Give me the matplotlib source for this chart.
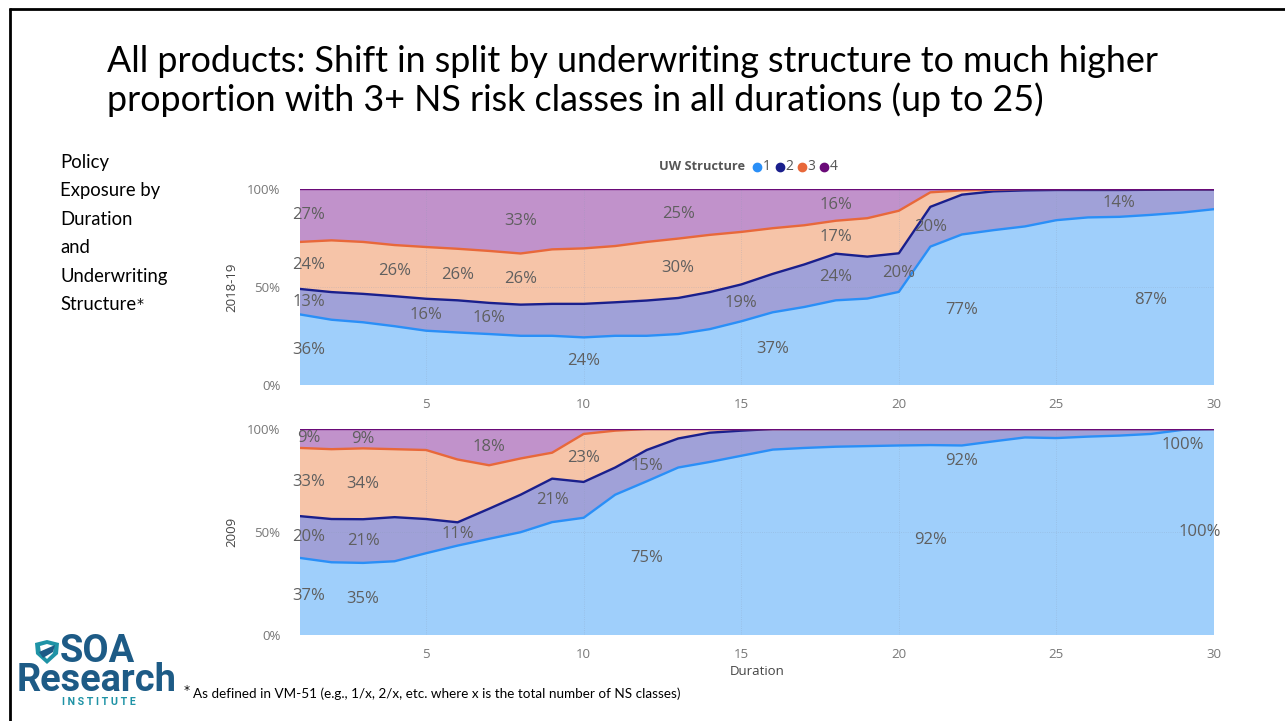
import numpy as np
import matplotlib
matplotlib.use('Agg')
import matplotlib.pyplot as plt
from matplotlib import font_manager
from matplotlib.lines import Line2D
from matplotlib.patches import Polygon

# ---------------- data ----------------
durations = list(range(1, 31))
series_names = ['1', '2', '3', '4']

# 2018-19 exposure share (%) by UW structure
s2018_1 = [36.0, 33.3, 32.0, 30.0, 27.7, 26.8, 26.0, 25.1, 25.1, 24.3, 25.1, 25.1, 26.0, 28.5, 32.5,
           37.1, 39.8, 43.2, 44.1, 47.5, 70.6, 76.8, 79.0, 80.9, 84.1, 85.5, 85.8, 86.8, 88.0, 89.7]
s2018_2 = [13.0, 14.1, 14.5, 15.3, 16.3, 16.4, 15.9, 15.9, 16.3, 17.1, 17.1, 18.0, 18.4, 18.9, 18.8,
           19.6, 21.7, 23.8, 21.4, 19.7, 20.3, 20.3, 19.8, 18.4, 15.4, 14.0, 13.7, 12.8, 11.7, 10.0]
s2018_3 = [24.0, 26.4, 26.5, 26.1, 26.4, 26.3, 26.5, 26.1, 27.8, 28.3, 28.7, 29.9, 30.3, 29.2, 26.8,
           23.3, 20.0, 16.8, 19.6, 21.7, 7.4, 2.2, 0.9, 0.7, 0.5, 0.5, 0.5, 0.4, 0.3, 0.3]
s2018_4 = [27.0, 26.2, 27.0, 28.6, 29.6, 30.5, 31.6, 32.9, 30.8, 30.3, 29.1, 27.0, 25.3, 23.4, 21.9,
           20.0, 18.5, 16.2, 14.9, 11.1, 1.7, 0.7, 0.3, 0.0, 0.0, 0.0, 0.0, 0.0, 0.0, 0.0]

# 2009 exposure share (%) by UW structure
s2009_1 = [37.4, 35.3, 35.0, 35.8, 39.7, 43.4, 46.7, 49.9, 54.8, 56.9, 68.1, 74.6, 81.3, 84.0, 87.0,
           90.0, 90.8, 91.4, 91.7, 92.0, 92.2, 92.0, 94.0, 95.9, 95.6, 96.3, 96.8, 97.6, 99.6, 100.0]
s2009_2 = [20.3, 21.0, 21.2, 21.4, 16.6, 11.3, 14.6, 18.2, 21.1, 17.4, 13.2, 15.2, 14.1, 14.2, 12.2,
           10.0, 9.2, 8.6, 8.3, 8.0, 7.8, 8.0, 6.0, 4.1, 4.4, 3.7, 3.2, 2.4, 0.4, 0.0]
s2009_3 = [33.1, 33.9, 34.4, 33.0, 33.5, 30.5, 21.1, 17.6, 12.6, 23.3, 17.9, 10.2, 4.6, 1.8, 0.8,
           0.0, 0.0, 0.0, 0.0, 0.0, 0.0, 0.0, 0.0, 0.0, 0.0, 0.0, 0.0, 0.0, 0.0, 0.0]
s2009_4 = [9.2, 9.8, 9.4, 9.8, 10.2, 14.8, 17.6, 14.3, 11.5, 2.4, 0.8, 0.0, 0.0, 0.0, 0.0,
           0.0, 0.0, 0.0, 0.0, 0.0, 0.0, 0.0, 0.0, 0.0, 0.0, 0.0, 0.0, 0.0, 0.0, 0.0]

# data labels shown: (duration, series index)
labels_2018 = [(1, 3), (8, 3), (13, 3), (18, 3),
               (1, 2), (4, 2), (6, 2), (8, 2), (13, 2), (18, 2),
               (1, 1), (5, 1), (7, 1), (15, 1), (18, 1), (20, 1), (21, 1), (27, 1),
               (1, 0), (10, 0), (16, 0), (22, 0), (28, 0)]
labels_2009 = [(1, 3), (3, 3), (7, 3),
               (1, 2), (3, 2), (10, 2),
               (1, 1), (3, 1), (6, 1), (9, 1), (12, 1),
               (1, 0), (3, 0), (12, 0), (21, 0), (22, 0), (29, 0), (30, 0)]
# a few labels sit away from their band centre in the original
label_y_override_2009 = {(22, 0): 0.845, (29, 0): 0.92}

title_lines = ["All products: Shift in split by underwriting structure to much higher",
               "proportion with 3+ NS risk classes in all durations (up to 25)"]
side_lines = ["Policy", "Exposure by", "Duration", "and", "Underwriting", "Structure"]
footnote = "As defined in VM-51 (e.g., 1/x, 2/x, etc. where x is the total number of NS classes)"

# ---------------- style ----------------
W, H = 1285, 721
fill_colors = ['#9fcffb', '#a0a1d8', '#f6c4a8', '#c192cb']
line_colors = ['#2a8ff7', '#1a1f8c', '#e8683a', '#6a0a78']
avail = {f.name for f in font_manager.fontManager.ttflist}
def pick(*names):
    for n in names:
        if n in avail:
            return n
    return 'DejaVu Sans'
UI = pick('Open Sans', 'Noto Sans', 'DejaVu Sans')
TITLE = pick('Lato', 'Open Sans')
NARROW = pick('Liberation Sans Narrow', 'Lato')
LOGO = pick('Roboto', 'Open Sans')

fig = plt.figure(figsize=(W / 100, H / 100), dpi=100)
renderer = fig.canvas.get_renderer()

def fx(x): return x / W
def fy(y): return 1 - y / H

def fit_size(s, family, target_w, weight='normal', base=20):
    t = fig.text(0, 0, s, fontsize=base, family=family, weight=weight)
    w = t.get_window_extent(renderer).width
    t.remove()
    return base * target_w / w

def axes_box(l, t, r, b):
    return [fx(l), fy(b), fx(r) - fx(l), fy(t) - fy(b)]

ax1 = fig.add_axes(axes_box(300, 189, 1214, 385))
ax2 = fig.add_axes(axes_box(300, 429, 1214, 635))

def draw_panel(ax, shares, labels, overrides, ylab, show_xlabel):
    shares = np.array(shares, dtype=float)
    frac = shares / 100.0
    cum = np.cumsum(frac, axis=0)
    ax.stackplot(durations, frac, colors=fill_colors, lw=0, zorder=1)
    for i in range(4):
        ax.plot(durations, cum[i], color=line_colors[i], lw=1.7, zorder=3,
                solid_joinstyle='round')
    for xv in range(5, 31, 5):
        ax.axvline(xv, color='#8a9ab5', lw=0.6, ls=':', alpha=0.35, zorder=2)
    ax.axhline(0.5, color='#8a9ab5', lw=0.6, ls=':', alpha=0.35, zorder=2)
    for d, i in labels:
        k = d - 1
        lo = cum[i - 1][k] if i > 0 else 0.0
        hi = cum[i][k]
        y = overrides.get((d, i), (lo + hi) / 2)
        xpos = min(max(d, 1.28), 29.55)
        ax.text(xpos, y, f"{shares[i][k]:.0f}%", ha='center', va='center',
                fontsize=12, family=UI, color='#5f5f5f', zorder=5)
    ax.set_xlim(1, 30)
    ax.set_ylim(0, 1)
    ax.set_yticks([0, 0.5, 1.0])
    ax.set_yticklabels(['0%', '50%', '100%'])
    ax.set_xticks([5, 10, 15, 20, 25, 30])
    for sp in ax.spines.values():
        sp.set_visible(False)
    ax.tick_params(length=0, labelsize=9.5, labelcolor='#777777', pad=9)
    ax.tick_params(axis='y', pad=14)
    for lab in ax.get_xticklabels() + ax.get_yticklabels():
        lab.set_family(UI)
    ax.set_ylabel(ylab, family=UI, fontsize=9.5, color='#444444', labelpad=10)
    if show_xlabel:
        ax.set_xlabel('Duration', family=UI, fontsize=9.5, color='#444444', labelpad=3)

draw_panel(ax1, [s2018_1, s2018_2, s2018_3, s2018_4], labels_2018, {}, '2018-19', False)
draw_panel(ax2, [s2009_1, s2009_2, s2009_3, s2009_4], labels_2009, label_y_override_2009, '2009', True)
ax1.yaxis.set_label_coords(-0.067, 0.5)
ax2.yaxis.set_label_coords(-0.067, 0.5)

# ---------------- legend ----------------
fig.text(fx(745), fy(167), 'UW Structure', ha='right', va='center', family=UI,
         weight='bold', fontsize=9.2, color='#555555')
leg_x = [757, 780, 802, 824]
for xp, name, c in zip(leg_x, series_names, line_colors):
    fig.add_artist(Line2D([fx(xp)], [fy(167)], marker='o', ms=6.0, color=c, mec=c, lw=0))
    fig.text(fx(xp + 5.5), fy(167), name, ha='left', va='center', family=UI,
             fontsize=10, color='#555555')

# ---------------- title and side text ----------------
ts = fit_size(title_lines[0], TITLE, 1058)
fig.text(fx(107), fy(72), title_lines[0], family=TITLE, fontsize=ts, color='#000000', va='baseline')
fig.text(fx(107), fy(111), title_lines[1], family=TITLE, fontsize=ts, color='#000000', va='baseline')

ss = fit_size('Underwriting', NARROW, 108)
for k, line in enumerate(side_lines):
    t = fig.text(fx(60), fy(168 + 28.4 * k), line, family=NARROW, fontsize=ss,
                 color='#000000', va='baseline')
    if line == 'Structure':
        w = t.get_window_extent(renderer).width
        fig.text(fx(60 + w + 0.5), fy(168 + 28.4 * k - 2), '*', family='DejaVu Sans',
                 fontsize=ss * 0.75, color='#000000', va='baseline')

fs = fit_size(footnote, NARROW, 487)
fig.text(fx(184), fy(694), '*', family='DejaVu Sans', fontsize=fs * 0.9, color='#000000', va='baseline')
fig.text(fx(193), fy(698), footnote, family=NARROW, fontsize=fs, color='#000000', va='baseline')

# ---------------- logo ----------------
blue = '#1d5b86'
teal = '#1f93a6'
logo_text = 'SOA\nResearch'
rz = fit_size('Research', LOGO, 160, weight='bold')
t1 = fig.text(0, 0, 'Research', family=LOGO, weight='bold', fontsize=rz, linespacing=1.0)
t2 = fig.text(0, 0, logo_text, family=LOGO, weight='bold', fontsize=rz, linespacing=1.0)
gap = t2.get_window_extent(renderer).height - t1.get_window_extent(renderer).height
t1.remove(); t2.remove()
# multi-line 'baseline' alignment anchors the last line (Research)
fig.text(fx(97), fy(691), logo_text, family=LOGO, weight='bold', fontsize=rz, color=blue,
         ha='center', va='baseline', multialignment='center', linespacing=27.0 / gap)
iz = fit_size('I N S T I T U T E', LOGO, 74, weight='bold')
fig.text(fx(62), fy(705), 'I N S T I T U T E', family=LOGO, weight='bold', fontsize=iz, color=teal, va='baseline')
shield = [(35, 643), (47, 640), (59, 643), (58, 654), (47, 664), (36, 654)]
fig.add_artist(Polygon([(fx(a), fy(b)) for a, b in shield], closed=True, transform=fig.transFigure,
                       facecolor=teal, edgecolor='none'))
inner = [(40, 646), (47, 644), (54, 646), (53, 653), (47, 659), (41, 653)]
fig.add_artist(Polygon([(fx(a), fy(b)) for a, b in inner], closed=True, transform=fig.transFigure,
                       facecolor='white', edgecolor='none'))
swoosh = [(39, 652), (55, 645), (53, 652), (43, 658)]
fig.add_artist(Polygon([(fx(a), fy(b)) for a, b in swoosh], closed=True, transform=fig.transFigure,
                       facecolor=blue, edgecolor='none'))

# ---------------- frame ----------------
fig.add_artist(Line2D([fx(9), fx(1285)], [fy(8.5), fy(8.5)], color='black', lw=2.0,
                      transform=fig.transFigure, solid_capstyle='butt'))
fig.add_artist(Line2D([fx(9.5), fx(9.5)], [fy(8), fy(721)], color='black', lw=2.0,
                      transform=fig.transFigure, solid_capstyle='butt'))

fig.savefig('out.png', dpi=100, facecolor='white')
